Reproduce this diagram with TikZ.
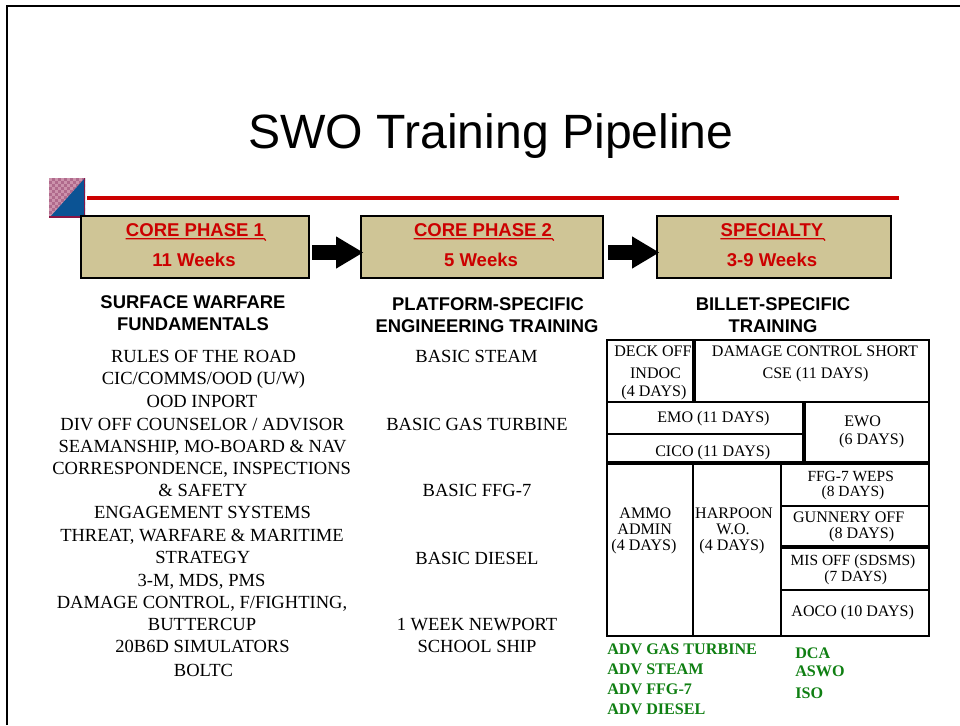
\documentclass[tikz,border=0pt]{standalone}
\usepackage{fontspec}
\usetikzlibrary{arrows.meta}
\setmainfont{Liberation Serif}
\newfontfamily\arialf{Liberation Sans}
\definecolor{tan}{HTML}{CFC596}
\definecolor{hred}{HTML}{CC0000}
\definecolor{grn}{HTML}{0F7F12}
\definecolor{swblue}{HTML}{0B5394}
\definecolor{swpink}{HTML}{B06A8C}
\definecolor{swlight}{HTML}{CC92AB}
\definecolor{swdark}{HTML}{8A1545}
\tikzset{
 x=0.75pt,y=-0.75pt,
 phase/.style={draw=black,line width=1.4pt,fill=tan,minimum width=171pt,minimum height=46pt,inner sep=0pt},
 hdr/.style={font=\arialf\bfseries\fontsize{13.9}{15}\selectfont,text=hred,inner sep=0pt,text height=10pt,text depth=0pt},
 sub/.style={font=\arialf\bfseries\fontsize{13.8}{15}\selectfont,text=black,inner sep=0pt,text height=9.9pt,text depth=0pt},
 body/.style={font=\fontsize{13.9}{15}\selectfont,inner sep=0pt,text height=9.2pt,text depth=0pt},
 cell/.style={font=\fontsize{12.05}{13}\selectfont,inner sep=0pt,text height=8pt,text depth=0pt},
 small/.style={font=\fontsize{11.6}{12}\selectfont,inner sep=0pt,text height=7.7pt,text depth=0pt},
 adv/.style={font=\bfseries\fontsize{12.1}{13}\selectfont,text=grn,inner sep=0pt,anchor=west,text height=8pt,text depth=0pt},
 grid/.style={line width=1.5pt,line cap=rect},
 gridb/.style={line width=3pt},
 ulin/.style={draw=hred,line width=0.95pt},
 flow/.style={line width=11.6pt,-{Triangle[length=20.5pt,width=22.5pt]}}
}
\begin{document}
\begin{tikzpicture}
\useasboundingbox (0,0) rectangle (960,725);
\draw[line width=1.5pt] (7,725) -- (7,6) -- (960,6);
\node[font=\arialf\fontsize{36.1}{40}\selectfont,inner sep=0pt] (title) at (491,136) {SWO Training Pipeline};
% logo
\fill[swpink] (49,178) rectangle (85,218);
\begin{scope}
\clip (49,178) rectangle (85,216);
\foreach \i in {0,...,12}{\foreach \j in {0,...,13}{
 \pgfmathparse{int(mod(\i+\j,2))}
 \ifnum\pgfmathresult=0 \fill[swlight] (49+3*\i,178+3*\j) rectangle ++(3,3);\fi}}
\end{scope}
\fill[swblue] (85,178) -- (85,216) -- (51,216) -- cycle;
\fill[swdark] (49,215.5) rectangle (85,218);
\fill[swdark] (83.5,178) rectangle (85,218);
\draw[hred,line width=3pt] (87,198) -- (899,198);
% phases
\node[phase] (p1) at (195,247) {};
\node[phase,minimum width=181pt] (p2) at (482,247) {};
\node[phase,minimum width=175pt] (p3) at (774,247) {};
\node[hdr] (p1a) at (195,230) {CORE PHASE 1};
\node[hdr] (p1b) at (194,260) {11 Weeks};
\node[hdr] (p2a) at (483,230) {CORE PHASE 2};
\node[hdr] (p2b) at (481,260) {5 Weeks};
\node[hdr] (p3a) at (772,230) {SPECIALTY};
\node[hdr] (p3b) at (772,260) {3-9 Weeks};
\draw[ulin] ([shift={(0,1.8)}]p1a.south west) -- ([shift={(0,1.8)}]p1a.south east) -- ++(1.5,1.8);
\draw[ulin] ([shift={(0,1.8)}]p2a.south west) -- ([shift={(0,1.8)}]p2a.south east) -- ++(1.5,1.8);
\draw[ulin] ([shift={(0,1.8)}]p3a.south west) -- ([shift={(0,1.8)}]p3a.south east) -- ++(1.5,1.8);
\coordinate (a1s) at (312,252.5);
\coordinate (a1e) at (363.5,252.5);
\coordinate (a2s) at (608,252.5);
\coordinate (a2e) at (659.5,252.5);
\draw[flow] (a1s) -- (a1e);
\draw[flow] (a2s) -- (a2e);
% subheads
\node[sub] (s1a) at (193,302) {SURFACE WARFARE};
\node[sub] (s1b) at (193,323.5) {FUNDAMENTALS};
\node[sub] (s2a) at (488,304) {PLATFORM-SPECIFIC};
\node[sub] (s2b) at (487,326) {ENGINEERING TRAINING};
\node[sub] (s3a) at (773,304) {BILLET-SPECIFIC};
\node[sub] (s3b) at (773,326) {TRAINING};
% left column
\node[body] (l1) at (203.5,356) {RULES OF THE ROAD};
\node[body] (l2) at (203.5,378.5) {CIC/COMMS/OOD (U/W)};
\node[body] (l3) at (202,401.5) {OOD INPORT};
\node[body] (l4) at (202.5,424) {DIV OFF COUNSELOR / ADVISOR};
\node[body] (l5) at (202.5,446) {SEAMANSHIP, MO-BOARD \& NAV};
\node[body] (l6) at (201.7,468) {CORRESPONDENCE, INSPECTIONS};
\node[body] (l7) at (203,490) {\& SAFETY};
\node[body] (l8) at (202.5,512) {ENGAGEMENT SYSTEMS};
\node[body] (l9) at (202,535.5) {THREAT, WARFARE \& MARITIME};
\node[body] (l10) at (202.8,557.5) {STRATEGY};
\node[body] (l11) at (201.5,580) {3-M, MDS, PMS};
\node[body] (l12) at (202,602) {DAMAGE CONTROL, F/FIGHTING,};
\node[body] (l13) at (202,624) {BUTTERCUP};
\node[body] (l14) at (202.5,646) {20B6D SIMULATORS};
\node[body] (l15) at (203.5,670) {BOLTC};
% middle
\node[body] (m1) at (476.5,356) {BASIC STEAM};
\node[body] (m2) at (477,424) {BASIC GAS TURBINE};
\node[body] (m3) at (477,490) {BASIC FFG-7};
\node[body] (m4) at (477,558) {BASIC DIESEL};
\node[body] (m5) at (477,624) {1 WEEK NEWPORT};
\node[body] (m6) at (477,646) {SCHOOL SHIP};
% grid
\draw[grid] (607,340) rectangle (929,636);
\draw[gridb] (693.8,340) -- (693.8,402);
\draw[grid] (607,402) -- (929,402);
\draw[gridb] (804,402) -- (804,463);
\draw[grid] (607,433.5) -- (804,433.5);
\draw[gridb] (607,463) -- (929,463);
\draw[grid] (693,463) -- (693,636);
\draw[grid] (780.7,463) -- (780.7,636);
\draw[grid] (780.7,505.7) -- (929,505.7);
\draw[gridb] (780.7,547) -- (929,547);
\draw[grid] (780.7,589.7) -- (929,589.7);
\node[cell] (c1) at (653,350.7) {DECK OFF};
\node[cell] (c2) at (655.5,373.3) {INDOC};
\node[cell] (c3) at (654,391) {(4 DAYS)};
\node[cell] (c4) at (815,350.7) {DAMAGE CONTROL SHORT};
\node[cell] (c5) at (815.5,373.3) {CSE (11 DAYS)};
\node[cell] (c6) at (713.5,417) {EMO (11 DAYS)};
\node[cell] (c7) at (712.7,451) {CICO (11 DAYS)};
\node[cell] (c8) at (862.7,420.7) {EWO};
\node[cell] (c9) at (871.7,439) {(6 DAYS)};
\node[cell] (c10) at (645.3,512.7) {AMMO};
\node[cell] (c11) at (644.7,529) {ADMIN};
\node[cell] (c12) at (644,545) {(4 DAYS)};
\node[cell] (c13) at (734,512.7) {HARPOON};
\node[cell] (c14) at (733,529) {W.O.};
\node[cell] (c15) at (732,545) {(4 DAYS)};
\node[small] (c16) at (850.7,476.7) {FFG-7 WEPS};
\node[small] (c17) at (853,491) {(8 DAYS)};
\node[cell] (c18) at (848.7,516.7) {GUNNERY OFF};
\node[cell] (c19) at (861.7,533.3) {(8 DAYS)};
\node[small] (c20) at (853,560.7) {MIS OFF (SDSMS)};
\node[small] (c21) at (855.7,576) {(7 DAYS)};
\node[cell] (c22) at (852.7,611) {AOCO (10 DAYS)};
% green
\node[adv] (g1) at (607,649) {ADV GAS TURBINE};
\node[adv] (g2) at (607,669) {ADV STEAM};
\node[adv] (g3) at (607,689) {ADV FFG-7};
\node[adv] (g4) at (607,709) {ADV DIESEL};
\node[adv] (g5) at (795,652.7) {DCA};
\node[adv] (g6) at (795,671) {ASWO};
\node[adv] (g7) at (795,692.7) {ISO};
\end{tikzpicture}
\end{document}
